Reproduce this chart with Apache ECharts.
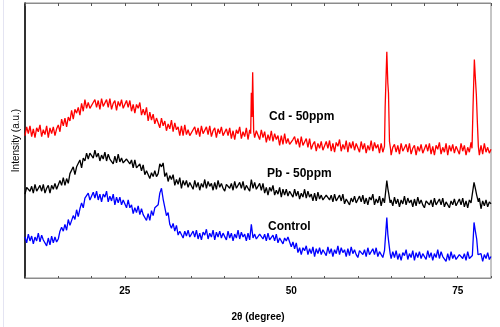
<!DOCTYPE html>
<html>
<head>
<meta charset="utf-8">
<script src="https://cdn.jsdelivr.net/npm/echarts@6/dist/echarts.min.js"></script>
<style>
  html, body { margin: 0; padding: 0; background: #fff; }
  #xrd-chart { width: 500px; height: 327px; }
</style>
</head>
<body>
<div id="xrd-chart"></div>
<script>
// 2θ grid: 10 -> 80, every 0.25 degree (one row = 5 degrees)
var thetaStart = 10;
var thetaStep = 0.25;

// Cd - 50ppm (red)
var cdBase = [
  146, 155, 148, 156, 145, 153, 144, 154, 150, 157, 145, 152, 147, 156, 144, 154, 148, 155, 146, 153,
  157, 150, 163, 156, 164, 155, 165, 161, 172, 163, 173, 169, 175, 167, 179, 171, 183, 174, 180, 174,
  172, 180, 183, 175, 182, 173, 184, 176, 174, 183, 175, 184, 173, 179, 182, 172, 181, 176, 183, 174,
  173, 182, 175, 182, 171, 178, 169, 178, 174, 180, 167, 173, 167, 175, 161, 170, 162, 168, 158, 164,
  163, 154, 164, 156, 161, 151, 158, 153, 162, 150, 159, 152, 155, 146, 156, 146, 157, 147, 152, 146,
  144, 152, 155, 147, 154, 145, 156, 148, 146, 155, 147, 156, 145, 151, 154, 144, 153, 148, 155, 146,
  144, 153, 146, 154, 143, 151, 142, 152, 148, 155, 143, 150, 145, 154, 142, 152, 146, 153, 144, 151,
  150, 142, 152, 144, 150, 139, 147, 141, 151, 140, 148, 142, 146, 136, 146, 137, 148, 138, 143, 137,
  135, 142, 145, 137, 143, 134, 145, 136, 134, 143, 134, 143, 132, 137, 140, 130, 138, 133, 140, 131,
  131, 140, 133, 141, 130, 138, 129, 139, 135, 142, 130, 137, 132, 141, 129, 139, 133, 140, 131, 138,
  137, 129, 140, 132, 138, 128, 136, 131, 141, 130, 139, 133, 137, 128, 138, 129, 140, 131, 136, 130,
  126, 134, 137, 129, 136, 127, 138, 130, 128, 137, 129, 138, 127, 133, 136, 126, 135, 130, 137, 128,
  128, 137, 130, 138, 127, 135, 126, 136, 132, 139, 127, 134, 129, 138, 126, 136, 130, 137, 128, 135,
  135, 127, 138, 130, 136, 126, 134, 129, 139, 128, 137, 131, 135, 126, 136, 127, 138, 129, 134, 128,
  132
];
var cdPeaks = [
  [[43.9, 148], [44.0, 190], [44.1, 165], [44.2, 211], [44.35, 150]],
  [[64.0, 135], [64.1, 175], [64.35, 232], [64.5, 200], [64.6, 190], [64.75, 140], [64.9, 133]],
  [[77.15, 133], [77.3, 175], [77.5, 224], [77.65, 205], [77.8, 188], [77.95, 160], [78.1, 135]]
];

// Pb - 50ppm (black)
var pbBase = [
  86, 93, 95, 89, 94, 87, 96, 89, 88, 95, 89, 96, 87, 92, 95, 87, 95, 91, 97, 91,
  92, 100, 95, 103, 95, 102, 97, 107, 106, 114, 106, 114, 112, 121, 113, 123, 120, 128, 122, 128,
  129, 123, 131, 124, 128, 120, 126, 122, 129, 120, 127, 122, 124, 117, 125, 118, 127, 119, 123, 118,
  116, 122, 124, 117, 121, 113, 121, 113, 111, 117, 110, 116, 106, 110, 111, 102, 108, 104, 110, 104,
  107, 117, 114, 118, 104, 108, 99, 105, 101, 106, 95, 101, 96, 103, 92, 100, 95, 100, 93, 98,
  97, 91, 100, 93, 98, 90, 97, 93, 101, 92, 99, 94, 97, 90, 98, 91, 100, 93, 97, 92,
  89, 96, 98, 92, 97, 90, 99, 92, 91, 98, 92, 99, 90, 95, 97, 89, 101, 92, 98, 91,
  90, 97, 90, 97, 87, 93, 85, 93, 89, 95, 85, 90, 86, 93, 83, 91, 85, 91, 84, 89,
  89, 83, 91, 84, 89, 81, 87, 83, 91, 82, 89, 83, 86, 79, 87, 79, 88, 81, 85, 80,
  78, 85, 86, 80, 85, 78, 86, 79, 78, 85, 79, 86, 76, 81, 83, 75, 82, 78, 84, 77,
  77, 84, 78, 85, 76, 82, 75, 83, 80, 86, 75, 81, 77, 84, 74, 82, 77, 83, 76, 81,
  80, 74, 83, 76, 81, 73, 80, 76, 84, 75, 82, 77, 80, 73, 81, 74, 83, 76, 80, 75,
  72, 79, 81, 75, 80, 73, 82, 75, 74, 81, 75, 82, 73, 78, 80, 72, 79, 75, 81, 74,
  74, 81, 75, 82, 73, 79, 72, 80, 77, 83, 73, 79, 75, 82, 71, 79, 74, 80, 73, 78,
  76
];
var pbPeaks = [
  [[64.15, 79], [64.35, 100], [64.5, 92], [64.65, 86], [64.85, 77]],
  [[77.2, 77], [77.45, 98], [77.65, 92], [77.85, 85], [78.1, 78]]
];

// Control (blue)
var ctrlBase = [
  42, 36, 45, 38, 43, 35, 42, 38, 46, 37, 44, 39, 40, 33, 41, 34, 43, 36, 42, 37,
  40, 48, 52, 48, 55, 49, 60, 54, 55, 64, 60, 70, 63, 71, 77, 72, 82, 80, 87, 80,
  81, 88, 82, 89, 80, 86, 78, 86, 83, 89, 78, 84, 79, 86, 75, 83, 77, 83, 75, 80,
  79, 72, 80, 72, 75, 66, 72, 67, 74, 65, 71, 65, 67, 59, 66, 59, 69, 64, 72, 72,
  75, 87, 92, 81, 79, 64, 67, 55, 51, 56, 48, 54, 44, 48, 50, 41, 48, 43, 49, 42,
  41, 48, 42, 49, 40, 46, 39, 47, 44, 50, 40, 46, 42, 49, 39, 47, 42, 48, 41, 46,
  45, 39, 48, 41, 46, 38, 45, 41, 49, 40, 47, 42, 45, 38, 46, 39, 55, 41, 45, 40,
  38, 45, 47, 40, 45, 38, 46, 39, 38, 44, 38, 45, 36, 41, 43, 35, 41, 38, 42, 37,
  32, 37, 30, 36, 26, 31, 24, 31, 28, 33, 24, 30, 25, 32, 22, 30, 25, 31, 24, 29,
  29, 23, 32, 25, 30, 22, 29, 25, 33, 24, 31, 26, 29, 22, 30, 23, 32, 25, 29, 24,
  21, 28, 30, 24, 29, 22, 31, 24, 23, 30, 24, 31, 22, 27, 29, 21, 28, 24, 30, 23,
  20, 27, 21, 28, 19, 25, 18, 26, 23, 29, 19, 25, 21, 28, 18, 26, 21, 27, 20, 25,
  25, 19, 28, 21, 26, 18, 25, 21, 29, 20, 27, 22, 24, 17, 25, 18, 27, 20, 24, 19,
  17, 24, 26, 20, 25, 18, 27, 20, 19, 26, 20, 27, 18, 23, 25, 17, 24, 20, 26, 19,
  22
];
var ctrlPeaks = [
  [[64.15, 26], [64.35, 62], [64.5, 45], [64.65, 36], [64.85, 25]],
  [[77.2, 23], [77.45, 57], [77.65, 48], [77.85, 40], [78.05, 24]]
];

var xTicks = [25, 50, 75];

//把基线和峰合并成[x,y]
function buildSeries(base, peaks) {
  var pts = [];
  for (var i = 0; i < base.length; i++) {
    var x = thetaStart + i * thetaStep;
    var inPeak = false;
    for (var j = 0; j < peaks.length; j++) {
      var p = peaks[j];
      if (x >= p[0][0] && x <= p[p.length - 1][0]) { inPeak = true; }
    }
    if (!inPeak) pts.push([x, base[i]]);
  }
  for (var k = 0; k < peaks.length; k++) {
    pts = pts.concat(peaks[k]);
  }
  pts.sort(function (a, b) { return a[0] - b[0]; });
  return pts;
}

var myChart = echarts.init(document.getElementById('xrd-chart'));
var lineColor = '#8c8c8c';
var option = {
  animation: false,
  grid: { left: 25, right: 9, top: 3, bottom: 42, show: true, borderColor: lineColor, borderWidth: 1 },
  xAxis: [{
    type: 'value',
    min: 10,
    max: 80,
    interval: 5,
    name: '2θ (degree)',
    nameLocation: 'middle',
    nameGap: 34,
    nameTextStyle: { fontFamily: 'Liberation Sans', fontWeight: 'bold', fontSize: 10, color: '#000' },
    axisLine: { lineStyle: { color: lineColor } },
    axisTick: { inside: true, length: 2, lineStyle: { color: '#555' } },
    axisLabel: {
      margin: 8,
      fontFamily: 'Liberation Sans',
      fontWeight: 'bold',
      fontSize: 10,
      color: '#000',
      formatter: function (v) { return xTicks.indexOf(v) >= 0 ? v : ''; }
    },
    splitLine: { show: false }
  }, {
    type: 'value',
    position: 'top',
    min: 10,
    max: 80,
    interval: 5,
    axisLine: { lineStyle: { color: lineColor } },
    axisTick: { inside: true, length: 3, lineStyle: { color: '#555' } },
    axisLabel: { show: false },
    splitLine: { show: false }
  }],
  yAxis: {
    type: 'value',
    min: 0,
    max: 282,
    name: 'Intensity (a.u.)',
    nameLocation: 'middle',
    nameGap: 4,
    nameTextStyle: { fontFamily: 'Liberation Sans', fontSize: 10, color: '#000' },
    axisLine: { show: true, lineStyle: { color: '#000', width: 1.5 } },
    axisTick: { show: false },
    axisLabel: { show: false },
    splitLine: { show: false }
  },
  graphic: [
    { type: 'rect', shape: { x: 3, y: 0, width: 1, height: 327 }, style: { fill: '#e4e4f2' } },
    { type: 'text', left: 269, top: 111, style: { text: 'Cd - 50ppm', font: 'bold 12px "Liberation Sans"', fill: '#000' } },
    { type: 'text', left: 267, top: 168, style: { text: 'Pb - 50ppm', font: 'bold 12px "Liberation Sans"', fill: '#000' } },
    { type: 'text', left: 268, top: 221, style: { text: 'Control', font: 'bold 12px "Liberation Sans"', fill: '#000' } }
  ],
  series: [
    { name: 'Cd - 50ppm', type: 'line', showSymbol: false, lineStyle: { color: '#ff0000', width: 1.3 }, data: buildSeries(cdBase, cdPeaks) },
    { name: 'Pb - 50ppm', type: 'line', showSymbol: false, lineStyle: { color: '#000000', width: 1.3 }, data: buildSeries(pbBase, pbPeaks) },
    { name: 'Control', type: 'line', showSymbol: false, lineStyle: { color: '#0000ff', width: 1.3 }, data: buildSeries(ctrlBase, ctrlPeaks) }
  ]
};
myChart.setOption(option);
</script>
</body>
</html>
